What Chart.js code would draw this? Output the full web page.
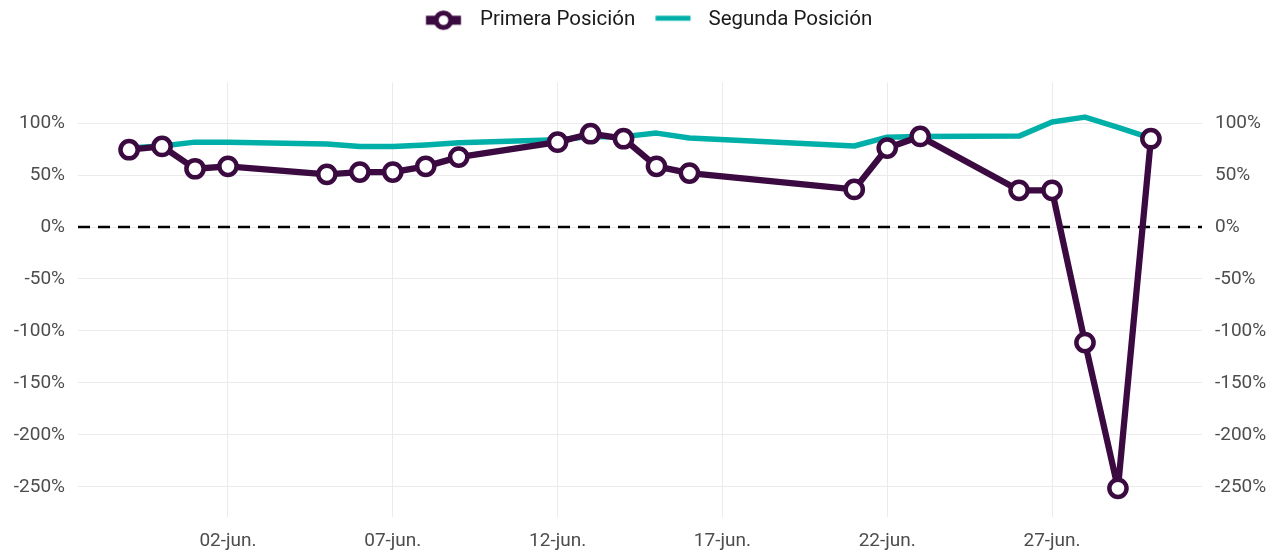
<!DOCTYPE html>
<html>
<head>
<meta charset="utf-8">
<script src="https://cdn.jsdelivr.net/npm/chart.js@4.4.0/dist/chart.umd.min.js"></script>
<style>
  html, body { margin: 0; padding: 0; background: #ffffff; }
  #wrap { width: 1274px; height: 554px; }
</style>
</head>
<body>
<div id="wrap"><canvas id="c" width="1274" height="554"></canvas></div>
<script>
// ---- Data ----
const fechas = ['05-30','05-31','06-01','06-02','06-05','06-06','06-07','06-08','06-09',
                '06-12','06-13','06-14','06-15','06-16','06-21','06-22','06-23',
                '06-26','06-27','06-28','06-29','06-30'];
const primeraPosicion = [74.4, 77.6, 56.1, 58.4, 50.7, 52.9, 52.9, 58.4, 67.3,
                         81.7, 89.8, 85.0, 58.4, 51.9, 36.2, 76.0, 87.2,
                         35.3, 35.3, -111.2, -251.5, 85.0];
const segundaPosicion = [76.0, 78.0, 81.7, 81.7, 80.0, 77.6, 77.6, 79.0, 81.0,
                         84.0, 87.0, 87.0, 90.4, 85.6, 78.0, 86.5, 87.2,
                         87.5, 101.0, 105.8, 96.0, 85.6];
const xTickFechas = ['06-02','06-07','06-12','06-17','06-22','06-27'];
const yTickValues = [-250, -200, -150, -100, -50, 0, 50, 100];
const seriesNames = ['Primera Posición', 'Segunda Posición'];
const mesesAbrev = ['ene','feb','mar','abr','may','jun','jul','ago','sep','oct','nov','dic'];

const COL_PRIMERA = '#3b0a40';
const COL_SEGUNDA = '#00b0a8';

function toDay(s) {
  const [m, d] = s.split('-').map(Number);
  return Date.UTC(2020, m - 1, d) / 86400000;
}
function fmtDay(v) {
  const dt = new Date(Math.round(v) * 86400000);
  const d = String(dt.getUTCDate()).padStart(2, '0');
  return d + '-' + mesesAbrev[dt.getUTCMonth()] + '.';
}

const xs = fechas.map(toDay);
const xMin = xs[0] - 1.55, xMax = xs[xs.length - 1] + 1.55;
const yMin = -279.1, yMax = 139.1;

// ---- Legend icons ----
const ICON_W = 56;
function iconPrimera() {
  const c = document.createElement('canvas');
  c.width = ICON_W; c.height = 26;
  const g = c.getContext('2d');
  g.fillStyle = COL_PRIMERA;
  g.fillRect(12.25, 13 - 4.5, 35, 9);
  g.beginPath();
  g.arc(29.75, 13, 7.3, 0, Math.PI * 2);
  g.fillStyle = '#ffffff';
  g.fill();
  g.lineWidth = 5;
  g.strokeStyle = COL_PRIMERA;
  g.stroke();
  return c;
}
function iconSegunda() {
  const c = document.createElement('canvas');
  c.width = ICON_W; c.height = 26;
  const g = c.getContext('2d');
  g.fillStyle = COL_SEGUNDA;
  g.fillRect(13.25, 11 - 2.5, 35, 5);
  return c;
}
const legendIcons = [iconPrimera(), iconSegunda()];

// ---- Plugins ----
const zeroLine = {
  id: 'zeroLine',
  beforeDatasetsDraw(chart) {
    const {ctx, chartArea, scales} = chart;
    const y = scales.y.getPixelForValue(0);
    ctx.save();
    ctx.strokeStyle = '#000000';
    ctx.lineWidth = 2.5;
    ctx.setLineDash([12, 8]);
    ctx.beginPath();
    ctx.moveTo(chartArea.left, y);
    ctx.lineTo(chartArea.right, y);
    ctx.stroke();
    ctx.restore();
  }
};
const legendGap = {
  id: 'legendGap',
  beforeInit(chart) {
    const orig = chart.legend.fit;
    chart.legend.fit = function () {
      orig.call(this);
      this.height += 42;
    };
  },
  afterLayout(chart) {
    chart.legend.left += 6;
    chart.legend.right += 6;
  }
};

Chart.defaults.font.family = 'Roboto';

new Chart(document.getElementById('c'), {
  type: 'line',
  data: {
    datasets: [
      {
        label: seriesNames[0],
        data: xs.map((x, i) => ({x: x, y: primeraPosicion[i]})),
        borderColor: COL_PRIMERA,
        backgroundColor: '#ffffff',
        borderWidth: 6.3,
        borderJoinStyle: 'round',
        pointRadius: 8.6,
        pointBorderWidth: 4.5,
        pointBackgroundColor: '#ffffff',
        pointBorderColor: COL_PRIMERA,
        pointHoverRadius: 8.6,
        tension: 0,
        order: 1
      },
      {
        label: seriesNames[1],
        data: xs.map((x, i) => ({x: x, y: segundaPosicion[i]})),
        borderColor: COL_SEGUNDA,
        backgroundColor: COL_SEGUNDA,
        borderWidth: 5.5,
        borderJoinStyle: 'round',
        pointRadius: 0,
        pointHoverRadius: 0,
        tension: 0,
        order: 2
      }
    ]
  },
  options: {
    responsive: false,
    animation: false,
    devicePixelRatio: 1,
    layout: { padding: { left: 0, right: 0, top: 3, bottom: 0 } },
    plugins: {
      tooltip: { enabled: false },
      legend: {
        position: 'top',
        align: 'center',
        labels: {
          usePointStyle: true,
          pointStyleWidth: ICON_W,
          boxHeight: 20,
          padding: 7,
          color: '#1a1a1a',
          font: { size: 20.5, family: 'Roboto' },
          generateLabels(chart) {
            const items = Chart.defaults.plugins.legend.labels.generateLabels(chart);
            items.forEach((it, i) => { it.pointStyle = legendIcons[i]; });
            return items;
          }
        }
      }
    },
    scales: {
      x: {
        type: 'linear',
        min: xMin,
        max: xMax,
        border: { display: false },
        grid: { color: '#ebebeb', lineWidth: 1, drawTicks: false },
        afterBuildTicks(scale) {
          scale.ticks = xTickFechas.map(s => ({value: toDay(s)}));
        },
        afterFit(scale) { scale.height = 37; },
        ticks: {
          color: '#4d4d4d',
          font: { size: 19, family: 'Roboto' },
          padding: 13,
          maxRotation: 0,
          autoSkip: false,
          callback: (v) => fmtDay(v)
        }
      },
      y: {
        type: 'linear',
        position: 'left',
        min: yMin,
        max: yMax,
        border: { display: false },
        grid: { color: '#ebebeb', lineWidth: 1, drawTicks: false },
        afterBuildTicks(scale) {
          scale.ticks = yTickValues.map(v => ({value: v}));
        },
        afterFit(scale) { scale.width = 78; },
        ticks: {
          color: '#4d4d4d',
          font: { size: 19, family: 'Roboto' },
          padding: 13,
          callback: (v) => v + '%'
        }
      },
      y2: {
        type: 'linear',
        position: 'right',
        min: yMin,
        max: yMax,
        border: { display: false },
        grid: { display: false, drawTicks: false },
        afterBuildTicks(scale) {
          scale.ticks = yTickValues.map(v => ({value: v}));
        },
        afterFit(scale) { scale.width = 72; },
        ticks: {
          color: '#4d4d4d',
          font: { size: 19, family: 'Roboto' },
          padding: 13,
          callback: (v) => v + '%'
        }
      }
    }
  },
  plugins: [zeroLine, legendGap]
});
</script>
</body>
</html>
